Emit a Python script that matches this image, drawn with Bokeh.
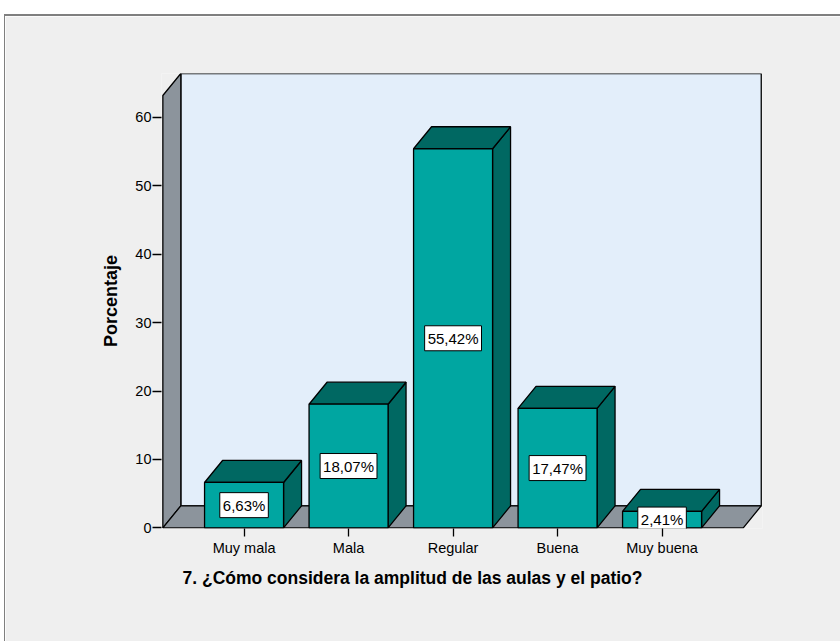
from bokeh.plotting import figure
from bokeh.models import ColumnDataSource, FixedTicker, Title, Range1d, Spacer
from bokeh.layouts import column, row
from bokeh.core.properties import value
from bokeh.embed import file_html
from bokeh.resources import INLINE

# ---- data ----
categories = ["Muy mala", "Mala", "Regular", "Buena", "Muy buena"]
percentages = [6.63, 18.07, 55.42, 17.47, 2.41]
y_ticks = [0, 10, 20, 30, 40, 50, 60]
x_title = "7. ¿Cómo considera la amplitud de las aulas y el patio?"
y_title = "Porcentaje"

# ---- style / geometry ----
FONT = "Liberation Sans"
FRONT = "#00a6a1"
DARK = "#006862"
WALL = "#e3eefa"
GRAY = "#8c949c"
BG = "#efefef"
DX = 0.172     # depth offset in category units
DY = 3.216     # depth offset in percent units
HW = 0.378     # half bar width
XL, XR = -0.777, 4.777   # front floor extent
TOP = 63.2               # front top of side wall

idx = list(range(len(categories)))

p = figure(width=835, height=625, output_backend="svg", toolbar_location=None,
           x_range=Range1d(-0.79, 4.961), y_range=Range1d(-0.1, 66.42),
           min_border_left=156, min_border_right=78, min_border_top=57,
           min_border_bottom=113)
p.background_fill_color = BG
p.border_fill_color = BG
p.outline_line_color = None
p.xgrid.visible = False
p.ygrid.visible = False

LW = 1.3
# back wall
p.patch([XL + DX, XR + DX, XR + DX, XL + DX], [DY, DY, TOP + DY, TOP + DY],
        fill_color=WALL, line_color="black", line_width=LW)
# left wall
p.patch([XL, XL, XL + DX, XL + DX], [0, TOP, TOP + DY, DY],
        fill_color=GRAY, line_color="black", line_width=LW)
# floor
p.patch([XL, XR, XR + DX, XL + DX], [0, 0, DY, DY],
        fill_color=GRAY, line_color="black", line_width=LW)

# bars
front_xs, front_ys, top_xs, top_ys, side_xs, side_ys = [], [], [], [], [], []
for i, v in zip(idx, percentages):
    l, r = i - HW, i + HW
    front_xs.append([l, r, r, l]); front_ys.append([0, 0, v, v])
    top_xs.append([l, r, r + DX, l + DX]); top_ys.append([v, v, v + DY, v + DY])
    side_xs.append([r, r + DX, r + DX, r]); side_ys.append([0, DY, v + DY, v])

p.patches(side_xs, side_ys, fill_color=DARK, line_color="black", line_width=LW)
p.patches(top_xs, top_ys, fill_color=DARK, line_color="black", line_width=LW)
p.patches(front_xs, front_ys, fill_color=FRONT, line_color="black", line_width=LW)

# value labels
lab_src = ColumnDataSource(dict(
    x=idx, y=[v / 2 for v in percentages],
    t=[("%.2f" % v).replace(".", ",") + "%" for v in percentages]))
p.text(x="x", y="y", text="t", source=lab_src, text_align="center",
       text_baseline="middle", text_font=value(FONT), text_font_size="15px",
       text_color="black", background_fill_color="white",
       border_line_color="black", border_line_width=1, padding=(3, 4))

# axes
p.yaxis.ticker = FixedTicker(ticks=y_ticks)
p.yaxis.axis_line_color = None
p.yaxis.major_tick_out = 9
p.yaxis.major_tick_in = 0
p.yaxis.minor_tick_line_color = None
p.yaxis.major_tick_line_color = "black"
p.yaxis.major_tick_line_width = 1.3
p.yaxis.major_label_standoff = 1
p.yaxis.major_label_text_font = FONT
p.yaxis.major_label_text_font_size = "14.5px"
p.yaxis.major_label_text_color = "black"
p.yaxis.axis_label = y_title
p.yaxis.axis_label_text_font = FONT
p.yaxis.axis_label_text_font_size = "18px"
p.yaxis.axis_label_text_font_style = "bold"
p.yaxis.axis_label_text_color = "black"
p.yaxis.axis_label_standoff = 11

p.xaxis.ticker = FixedTicker(ticks=idx)
p.xaxis.major_label_overrides = {i: c for i, c in zip(idx, categories)}
p.xaxis.axis_line_color = None
p.xaxis.major_tick_out = 8
p.xaxis.major_tick_in = 0
p.xaxis.minor_tick_line_color = None
p.xaxis.major_tick_line_color = "black"
p.xaxis.major_tick_line_width = 1.3
p.xaxis.major_label_standoff = 3
p.xaxis.major_label_text_font = FONT
p.xaxis.major_label_text_font_size = "14.5px"
p.xaxis.major_label_text_color = "black"

p.add_layout(Title(text=x_title, align="left", offset=21, standoff=15,
                   text_font=FONT, text_font_size="17.5px",
                   text_font_style="bold", text_color="black"), "below")

layout = column(
    Spacer(width=840, height=14),
    row(Spacer(width=4, height=2),
        Spacer(width=836, height=2, styles={"background-color": "#7f7f7f"})),
    row(Spacer(width=4, height=625),
        Spacer(width=1, height=625, styles={"background-color": "#7f7f7f"}),
        p),
)

open("out.html", "w").write(file_html(layout, INLINE))
